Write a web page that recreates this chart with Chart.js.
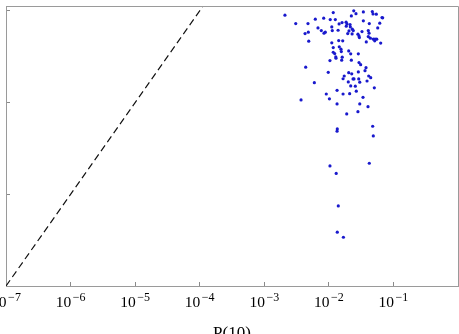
<!DOCTYPE html>
<html><head><meta charset="utf-8">
<script src="https://cdn.jsdelivr.net/npm/chart.js@4/dist/chart.umd.min.js"></script>
<style>
html,body{margin:0;padding:0;width:459px;height:334px;overflow:hidden;background:#fff;}
#wrap{position:absolute;left:-40px;top:0;width:520px;height:344px;}
</style></head><body>
<div id="wrap"><canvas id="c" width="520" height="344"></canvas></div>
<script>
// P(10) values (x) and the corresponding y values
const xVals = [2.09e-3,3.07e-3,3.71e-3,4.28e-3,4.38e-3,4.75e-3,4.81e-3,4.88e-3,5.96e-3,6.17e-3,
  6.79e-3,7.64e-3,8.32e-3,8.41e-3,8.81e-3,9.12e-3,9.79e-3,1.02e-2,1.04e-2,1.05e-2,
  1.11e-2,1.11e-2,1.13e-2,1.17e-2,1.17e-2,1.17e-2,1.23e-2,1.26e-2,1.28e-2,1.29e-2,
  1.34e-2,1.34e-2,1.39e-2,1.42e-2,1.44e-2,1.45e-2,1.54e-2,1.56e-2,1.58e-2,1.60e-2,
  1.61e-2,1.64e-2,1.66e-2,1.66e-2,1.73e-2,1.85e-2,1.86e-2,1.89e-2,1.91e-2,1.96e-2,
  2.00e-2,2.03e-2,2.03e-2,2.05e-2,2.10e-2,2.13e-2,2.15e-2,2.18e-2,2.18e-2,2.23e-2,
  2.23e-2,2.26e-2,2.29e-2,2.31e-2,2.37e-2,2.39e-2,2.43e-2,2.45e-2,2.57e-2,2.63e-2,
  2.66e-2,2.82e-2,2.82e-2,2.86e-2,2.86e-2,2.90e-2,2.93e-2,2.93e-2,2.97e-2,3.01e-2,
  3.01e-2,3.11e-2,3.26e-2,3.38e-2,3.42e-2,3.42e-2,3.63e-2,3.76e-2,3.80e-2,3.90e-2,
  4.04e-2,4.08e-2,4.08e-2,4.14e-2,4.19e-2,4.23e-2,4.39e-2,4.45e-2,4.71e-2,4.83e-2,
  4.88e-2,5.06e-2,5.13e-2,5.19e-2,5.43e-2,5.51e-2,5.71e-2,6.14e-2,6.35e-2,6.65e-2,
  6.82e-2,4.77e-2,1.35e-2,1.34e-2,4.88e-2,4.23e-2,1.04e-2,1.30e-2,1.40e-2,1.35e-2,1.68e-2];
const yVals = [8.97e-5,7.26e-5,1.07e-5,5.65e-5,2.43e-5,7.26e-5,5.86e-5,4.67e-5,1.65e-5,8.11e-5,
  6.51e-5,6.09e-5,8.32e-5,5.71e-5,5.86e-5,1.24e-5,2.14e-5,1.10e-5,2.87e-5,8.03e-5,
  6.68e-5,4.48e-5,6.09e-5,9.57e-5,3.98e-5,3.54e-5,3.42e-5,8.03e-5,3.15e-5,3.05e-5,
  9.66e-6,1.36e-5,6.15e-5,4.74e-5,7.21e-5,4.05e-5,3.82e-5,3.60e-5,2.90e-5,7.45e-5,
  3.13e-5,4.71e-5,1.82e-5,1.24e-5,1.95e-5,7.53e-5,6.81e-5,7.52e-6,7.21e-5,5.65e-5,
  1.68e-5,2.12e-5,3.66e-5,6.05e-5,1.25e-5,7.08e-5,6.68e-5,3.40e-5,1.52e-5,2.90e-5,
  8.81e-5,2.06e-5,5.61e-5,6.31e-5,1.81e-5,6.09e-5,1.00e-4,1.81e-5,1.51e-5,9.33e-5,
  1.33e-5,5.57e-5,7.96e-6,3.40e-5,2.16e-5,1.81e-5,5.33e-5,2.73e-5,5.12e-5,9.66e-6,
  1.67e-5,2.59e-5,5.94e-5,1.14e-5,9.75e-5,7.78e-5,2.23e-5,2.40e-5,4.59e-5,1.72e-5,
  9.03e-6,6.09e-5,5.25e-5,1.95e-5,5.71e-5,7.26e-5,5.04e-5,1.87e-5,9.82e-5,9.27e-5,
  4.91e-5,1.45e-5,4.71e-5,4.91e-5,9.20e-5,4.91e-5,6.51e-5,7.35e-5,4.45e-5,8.45e-5,
  8.40e-5,5.52e-6,5.16e-6,4.88e-6,4.33e-6,2.18e-6,2.04e-6,1.69e-6,7.46e-7,3.86e-7,3.40e-7];
// diagonal reference line y = x
const diagX = [1e-7, 1];
const diagY = [1e-7, 1];
// axis ticks (decade exponents) and ranges
const xTickExp = [-7,-6,-5,-4,-3,-2,-1];
const yTickExp = [-7,-6,-5,-4];
const xRange = [1e-7, 1];
const yRange = [1e-7, 1.13e-4];
const xAxisTitle = 'P(10)';

const points = xVals.map((x,i)=>({x:x, y:yVals[i]}));
const diag = diagX.map((x,i)=>({x:x, y:diagY[i]}));

const frame = {
  id:'frame',
  afterDatasetsDraw(chart){
    const a = chart.chartArea, ctx = chart.ctx;
    ctx.save();
    ctx.strokeStyle = '#9a9a9a'; ctx.lineWidth = 1;
    ctx.beginPath();
    ctx.moveTo(a.left+0.5, a.top+0.5); ctx.lineTo(a.right+0.5, a.top+0.5);
    ctx.lineTo(a.right+0.5, a.bottom+0.5);
    ctx.stroke();
    ctx.restore();
  }
};
const supLabels = {
  id:'supLabels',
  afterDraw(chart){
    const s = chart.scales.x, ctx = chart.ctx;
    ctx.save(); ctx.fillStyle = '#000'; ctx.textBaseline = 'alphabetic'; ctx.textAlign = 'left';
    const baseY = s.top + 20.5;
    const bf = '15.5px "Liberation Serif"', sf = '12px "Liberation Serif"';
    xTickExp.forEach(e=>{
      const px = s.getPixelForValue(Math.pow(10,e));
      const b = '10', sup = '\u2212' + Math.abs(e);
      ctx.font = bf; const wb = ctx.measureText(b).width;
      ctx.font = sf; const ws = ctx.measureText(sup).width;
      const gap = 1.5;
      const x0 = px - (wb + ws + gap)/2;
      ctx.font = bf; ctx.fillText(b, x0, baseY);
      ctx.font = sf; ctx.fillText(sup, x0 + wb + gap, baseY - 5.5);
    });
    ctx.restore();
  }
};

new Chart(document.getElementById('c'), {
  data: {
    datasets: [
      { type:'line', data: diag, borderColor:'#111', borderWidth:1.2, borderDash:[7,4],
        pointRadius:0, fill:false, tension:0 },
      { type:'scatter', data: points, backgroundColor:'rgb(25,25,205)', borderWidth:0,
        pointRadius:1.6, pointHoverRadius:1.6 }
    ]
  },
  options: {
    responsive:false, animation:false,
    layout:{ padding:{ left:0, right:22, top:6, bottom:0 } },
    plugins:{ legend:{display:false}, tooltip:{enabled:false} },
    scales:{
      x:{ type:'logarithmic', position:'bottom', min:xRange[0], max:xRange[1],
          afterBuildTicks(s){ s.ticks = xTickExp.map(e=>({value:Math.pow(10,e)})); },
          afterFit(s){ s.height = 58; },
          ticks:{ display:false },
          grid:{ drawOnChartArea:false, drawTicks:true, tickLength:-4, color:'#8a8a8a', lineWidth:1 },
          border:{ display:true, color:'#9a9a9a', width:1 },
          title:{ display:true, text:xAxisTitle, color:'#000', padding:0,
                  font:{ family:'"Liberation Serif"', size:17 } } },
      y:{ type:'logarithmic', position:'left', min:yRange[0], max:yRange[1],
          afterBuildTicks(s){ s.ticks = yTickExp.map(e=>({value:Math.pow(10,e)})); },
          afterFit(s){ s.width = 46; },
          ticks:{ display:false },
          grid:{ drawOnChartArea:false, drawTicks:true, tickLength:-4, color:'#8a8a8a', lineWidth:1 },
          border:{ display:true, color:'#9a9a9a', width:1 } }
    }
  },
  plugins:[frame, supLabels]
});
</script>
</body></html>
